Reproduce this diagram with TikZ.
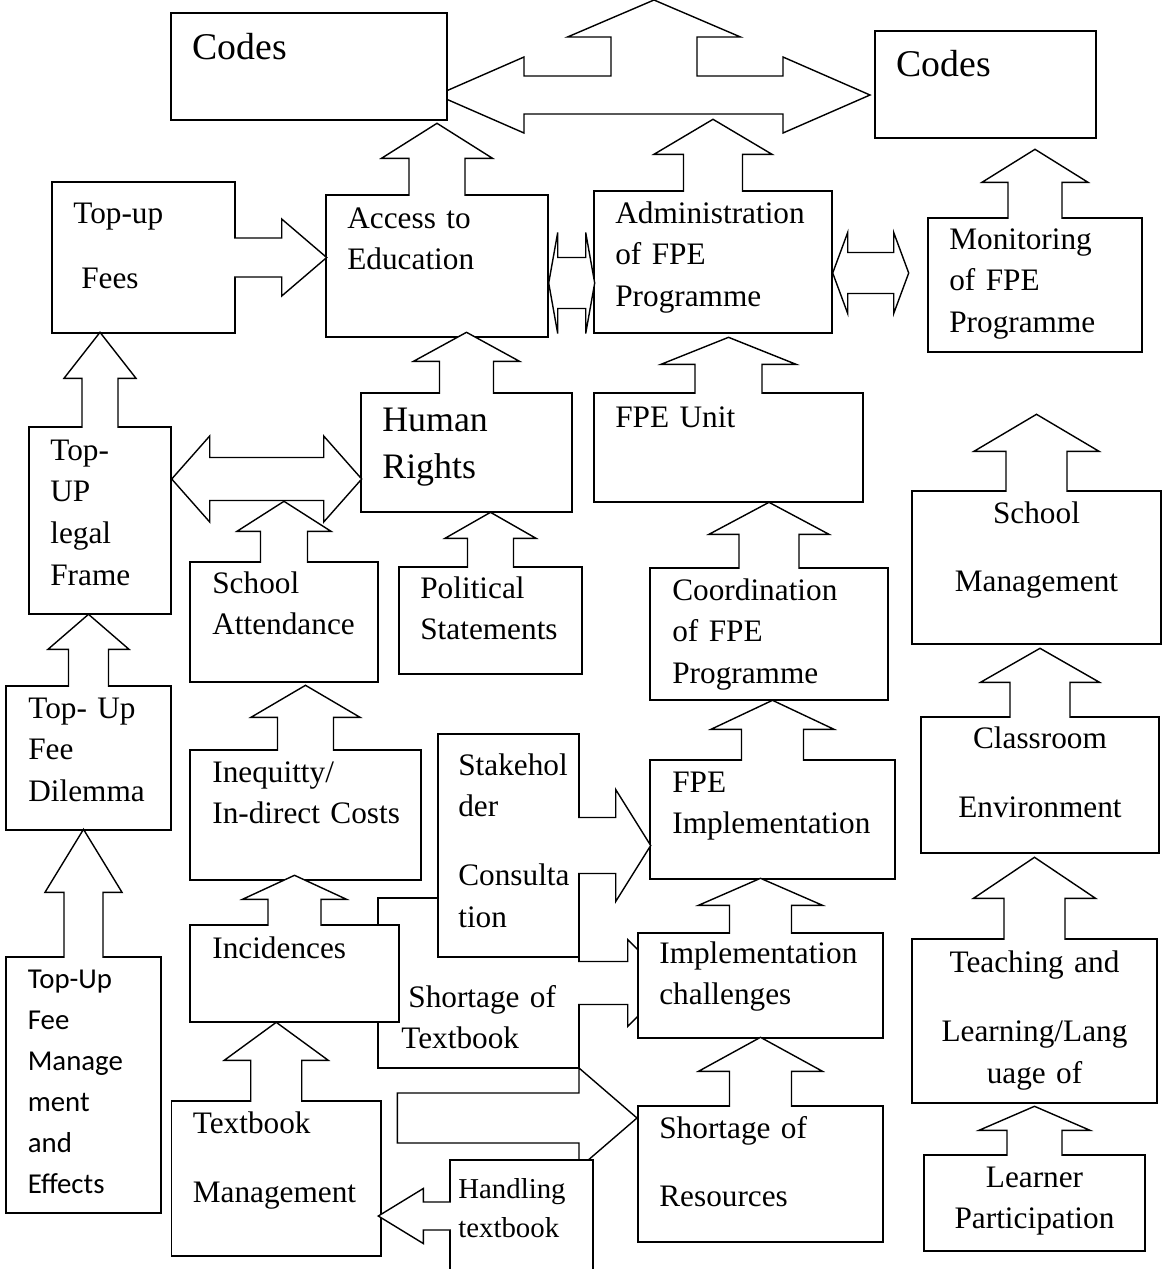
\documentclass[tikz,border=0pt]{standalone}
\usepackage{fontspec}
\setmainfont{Liberation Serif}
\newfontfamily\calfont{Carlito}
\usetikzlibrary{calc,fit}

\newcommand{\txtnorm}{\fontsize{17.8}{23.8}\selectfont}
\newcommand{\txtbig}{\fontsize{21.5}{26}\selectfont}
\newcommand{\txthum}{\fontsize{20.4}{27.2}\selectfont}
\newcommand{\txtsmall}{\fontsize{16.4}{22.7}\selectfont}
\newcommand{\txtcal}{\calfont\fontsize{16.4}{23.4}\selectfont}

% block arrows: length, head length, head half width, shaft half width
\newcommand{\uparr}[5]{%
  \path[blk] ($(#1.north)+({-#5},1.6)$) -- ++(0,{#3-#2-1.6}) -- ++({#5-#4},0)
    -- ++(#4,{-#3}) -- ++(#4,#3) -- ++({#5-#4},0) -- ++(0,{#2-#3+1.6});}
\newcommand{\rtarr}[6][]{%
  \path[blk] ($#2+(-1.6,{-#6})$) -- ++({#3-#4+1.6},0) -- ++(0,{#6-#5})
    -- ++(#4,#5) -- ++({-#4},#5) -- ++(0,{#6-#5}) -- ++({#4-#3-1.6},0) #1;}
\newcommand{\ltarr}[5]{%
  \path[blk] ($#1+(1.6,{-#5})$) -- ++({#3-#2-1.6},0) -- ++(0,{#5-#4})
    -- ++({-#3},#4) -- ++(#3,#4) -- ++(0,{#5-#4}) -- ++({#2-#3+1.6},0);}
\newcommand{\dblarr}[5]{%
  \path[blk] #1 -- ++(#3,{-#4}) -- ++(0,{#4-#5}) -- ++({#2-2*#3},0) -- ++(0,{#5-#4})
    -- ++(#3,#4) -- ++({-#3},#4) -- ++(0,{#5-#4}) -- ++({2*#3-#2},0) -- ++(0,{#4-#5}) -- cycle;}

\tikzset{
  cbox/.style={draw, fill=white, line width=0.8pt, inner sep=0pt},
  blk/.style={draw, fill=white, line width=0.8pt, line join=miter},
  lbl/.style={anchor=base west, inner sep=0pt, align=left, text width=6cm, font=\txtnorm},
  clbl/.style={anchor=base, inner sep=0pt, align=center, text width=6cm, font=\txtnorm}
}

\begin{document}
\begin{tikzpicture}[x=0.02cm, y=-0.02cm]
\useasboundingbox (0,0) rectangle (1164,1269);

% shapes lying behind the boxes
\node[cbox, fit={(378,898) (579,1068)}] (shorttb) {};
\rtarr{(shorttb.east)}{91.5}{43.5}{43.5}{21.5}
\coordinate (ctail) at (399,1118);
\rtarr[-- cycle]{(ctail)}{238}{58}{50}{25}
\coordinate (hub) at (654,95);
\path[blk] ($(hub)+(-217,0)$) -- ++(87,-38) -- ++(0,19) -- ++(87,0) -- ++(0,-39)
  -- ++(-43.5,0) -- ++(86.5,-37) -- ++(86.5,37) -- ++(-43.5,0) -- ++(0,39)
  -- ++(86,0) -- ++(0,-19) -- ++(87,38) -- ++(-87,38) -- ++(0,-19)
  -- ++(-259,0) -- ++(0,19) -- cycle;

\node[cbox, fit={(171,13) (447,120)}] (codesL) {};
\node[lbl, font=\txtbig] (codesL-t) at (192,59) {Codes};
\node[cbox, fit={(875,31) (1096,138)}] (codesR) {};
\node[lbl, font=\txtbig] (codesR-t) at (896,76) {Codes};

\node[cbox, fit={(52,182) (235,333)}] (fees) {};
\node[lbl] (fees-t) at (73,223) {Top-up\\[13.6pt]\hspace*{4.5pt}Fees};
\node[cbox, fit={(326,195) (548,337)}] (access) {};
\node[lbl] (access-t) at (347,228) {Access to\\Education};
\node[cbox, fit={(594,191) (832,333)}] (admin) {};
\node[lbl] (admin-t) at (615,223) {Administration\\of FPE\\Programme};
\node[cbox, fit={(928,218) (1142,352)}] (monitor) {};
\node[lbl] (monitor-t) at (949,249) {Monitoring\\of FPE\\Programme};

\node[cbox, fit={(29,427) (171,614)}] (legal) {};
\node[lbl] (legal-t) at (50,460) {Top-\\UP\\legal\\Frame};
\node[cbox, fit={(361,393) (572,512)}] (human) {};
\node[lbl, font=\txthum] (human-t) at (382,431) {Human\\Rights};
\node[cbox, fit={(594,393) (863,502)}] (fpeunit) {};
\node[lbl] (fpeunit-t) at (615,427) {FPE Unit};
\node[cbox, fit={(912,491) (1161,644)}] (schoolmgmt) {};
\node[clbl] (schoolmgmt-t) at (1036.5,523) {School\\[15.3pt]Management};

\node[cbox, fit={(190,562) (378,682)}] (attend) {};
\node[lbl] (attend-t) at (212,593) {School\\Attendance};
\node[cbox, fit={(399,567) (582,674)}] (political) {};
\node[lbl] (political-t) at (420,598) {Political\\Statements};
\node[cbox, fit={(650,568) (888,700)}] (coord) {};
\node[lbl] (coord-t) at (672,600) {Coordination\\of FPE\\Programme};

\node[cbox, fit={(6,686) (171,830)}] (dilemma) {};
\node[lbl] (dilemma-t) at (28,718) {Top- Up\\Fee\\Dilemma};
\node[cbox, fit={(190,750) (421,880)}] (inequity) {};
\node[lbl] (inequity-t) at (212,782) {Inequitty/\\In-direct Costs};
\node[cbox, fit={(438,734) (579,957)}] (stake) {};
\node[lbl] (stake-t) at (458,775) {Stakehol\\der\\[15.3pt]Consulta\\tion};
\node[cbox, fit={(650,760) (895,879)}] (fpeimpl) {};
\node[lbl] (fpeimpl-t) at (672,792) {FPE\\Implementation};
\node[cbox, fit={(921,717) (1159,853)}] (classroom) {};
\node[clbl] (classroom-t) at (1040,748) {Classroom\\[15.9pt]Environment};

\node[cbox, fit={(6,957) (161,1213)}] (feemgmt) {};
\node[lbl, font=\txtcal] (feemgmt-t) at (27.5,988) {Top-Up\\Fee\\Manage\\ment\\and\\Effects};
\node[cbox, fit={(190,925) (399,1022)}] (incid) {};
\node[lbl] (incid-t) at (212,958) {Incidences};
\node[lbl] (shorttb-t) at (401,1007) {\hspace*{4pt}Shortage of\\Textbook};
\node[cbox, fit={(638,933) (883,1038)}] (implch) {};
\node[lbl] (implch-t) at (659,963) {Implementation\\challenges};
\node[cbox, fit={(912,939) (1157,1103)}] (teach) {};
\node[clbl] (teach-t) at (1034.5,972) {Teaching and\\[15.9pt]Learning/Lang\\uage of};

\node[cbox, fit={(171.5,1101) (381,1256)}] (textmgmt) {};
\node[lbl] (textmgmt-t) at (192.5,1133) {Textbook\\[15.9pt]Management};
\node[cbox, fit={(450,1160) (593,1272)}] (handling) {};
\node[lbl, font=\txtsmall] (handling-t) at (458,1198) {Handling\\textbook};
\node[cbox, fit={(638,1106) (883,1242)}] (shortres) {};
\node[lbl] (shortres-t) at (659,1138) {Shortage of\\[15.3pt]Resources};
\node[cbox, fit={(924,1155) (1145,1251)}] (learner) {};
\node[clbl] (learner-t) at (1034.5,1187) {Learner\\Participation};

% arrows between the boxes
\uparr{access}{71}{35}{55.5}{28}
\uparr{human}{60}{29}{53}{27}
\uparr{legal}{94}{46}{36}{18}
\uparr{admin}{71}{35}{59}{29.5}
\uparr{monitor}{68}{33}{53}{27}
\uparr{fpeunit}{55}{27}{67.5}{33.5}
\uparr{coord}{65}{32}{60}{30}
\uparr{fpeimpl}{59}{29}{61.5}{31}
\uparr{political}{54}{26}{45.5}{23}
\uparr{dilemma}{71}{35}{40.5}{20}
\uparr{inequity}{64}{32}{54.5}{28}
\uparr{feemgmt}{127}{63}{38.5}{19.5}
\uparr{incid}{49}{24}{52}{26.5}
\uparr{textmgmt}{78}{38}{52}{25.5}
\uparr{implch}{54}{27}{62}{31}
\uparr{shortres}{68}{34}{62}{31}
\uparr{schoolmgmt}{76}{37}{62.5}{30.5}
\uparr{classroom}{68}{34}{59.5}{30}
\uparr{teach}{81}{41}{61}{30.5}
\uparr{learner}{48}{24}{55.5}{27.5}
\rtarr{(fees.east)}{91}{45}{38.5}{19.5}
\rtarr{(stake.east)}{71}{35}{56}{28}
\ltarr{(handling.west)}{71}{45}{27.5}{14}
\dblarr{($(access.east)+(0,17)$)}{46}{9}{50.5}{25.5}
\dblarr{($(admin.east)+(0,11)$)}{76}{15}{40.5}{20.5}
\dblarr{($(legal.east)+(0,-41.5)$)}{190}{38}{43}{21.5}
\uparr{attend}{60}{30}{47}{23.5}
\end{tikzpicture}
\end{document}
